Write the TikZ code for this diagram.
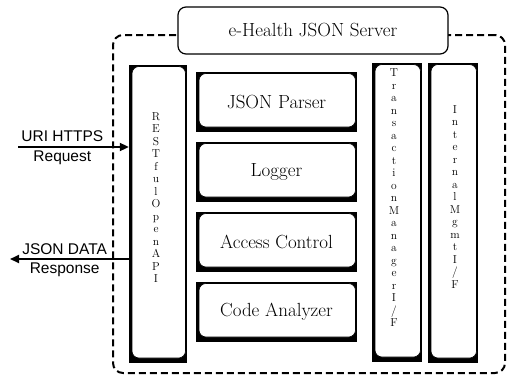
\documentclass[tikz,border=0pt]{standalone}
\usepackage{fontspec}
\usepackage{tikz}
\usetikzlibrary{arrows.meta}
\newfontfamily\arialfont{Liberation Sans}
\newcommand\boxfont{\fontsize{19}{21}\selectfont}
\newcommand\stackfont{\fontsize{11.5}{12.5}\selectfont}

\begin{document}
\begin{tikzpicture}[x=1pt, y=-1pt, >={Triangle[length=9pt,width=8pt]},
    panel/.style = {fill=black, inner sep=0pt, font=\boxfont,
      path picture={\draw[fill=white, line width=0.6pt, rounded corners=7pt]
        ([shift={(3pt,5pt)}]path picture bounding box.south west) rectangle
        ([shift={(-1.5pt,-1.5pt)}]path picture bounding box.north east);}},
    stack/.style = {align=center, inner sep=0pt, font=\stackfont},
    titlebox/.style = {draw, fill=white, rounded corners=8pt, line width=1.2pt, font=\boxfont},
    frame/.style = {draw, dash pattern=on 7pt off 4pt, line width=2pt, rounded corners=10pt},
    flow/.style = {->, line width=2pt},
    side/.style = {font=\arialfont\fontsize{15.5}{17}\selectfont, inner sep=0pt}]
    \useasboundingbox (0,0) rectangle (510,380);

    % Nodes

    \node[frame, minimum width=392pt, minimum height=338pt] (frame) at (309,204) {};
    \node[titlebox, minimum width=270pt, minimum height=47pt] (title) at (313,30.5) {e-Health JSON Server};

    \node[panel, minimum width=58pt, minimum height=298pt] (rest) at (158,214) {};
    \node[panel, minimum width=161pt, minimum height=60pt] (parser) at (276.5,102) {JSON Parser};
    \node[panel, minimum width=161pt, minimum height=60pt] (logger) at (276.5,172) {Logger};
    \node[panel, minimum width=161pt, minimum height=60pt] (access) at (276.5,242) {Access Control};
    \node[panel, minimum width=161pt, minimum height=60pt] (code) at (276.5,312) {Code Analyzer};
    \node[panel, minimum width=50pt, minimum height=299pt] (trans) at (397,212.5) {};
    \node[panel, minimum width=50pt, minimum height=300pt] (mgmt) at (453,213) {};

    \node[stack] (restlbl) at ([xshift=-2pt,yshift=16.5pt]rest.center)
      {R\\E\\S\\T\\f\\u\\l\\O\\p\\e\\n\\A\\P\\I};
    \node[stack] (translbl) at ([xshift=-3pt,yshift=14.5pt]trans.center)
      {T\\r\\a\\n\\s\\a\\c\\t\\i\\o\\n\\M\\a\\n\\a\\g\\e\\r\\I\\/\\F};
    \node[stack] (mgmtlbl) at ([xshift=2pt,yshift=16pt]mgmt.center)
      {I\\n\\t\\e\\r\\n\\a\\l\\M\\g\\m\\t\\I\\/\\F};

    \coordinate (in) at (18,147);
    \coordinate (out) at (10,259);

    % Edges

    \draw[flow] (in) -- node[side, pos=0.4, above=4pt] (uri) {URI HTTPS}
      node[side, pos=0.4, below=3pt] (req) {Request} (rest.west |- in);
    \draw[flow] (rest.west |- out) -- node[side, pos=0.54, above=3pt] (json) {JSON DATA}
      node[side, pos=0.54, below=3pt] (resp) {Response} (out);

\end{tikzpicture}
\end{document}
